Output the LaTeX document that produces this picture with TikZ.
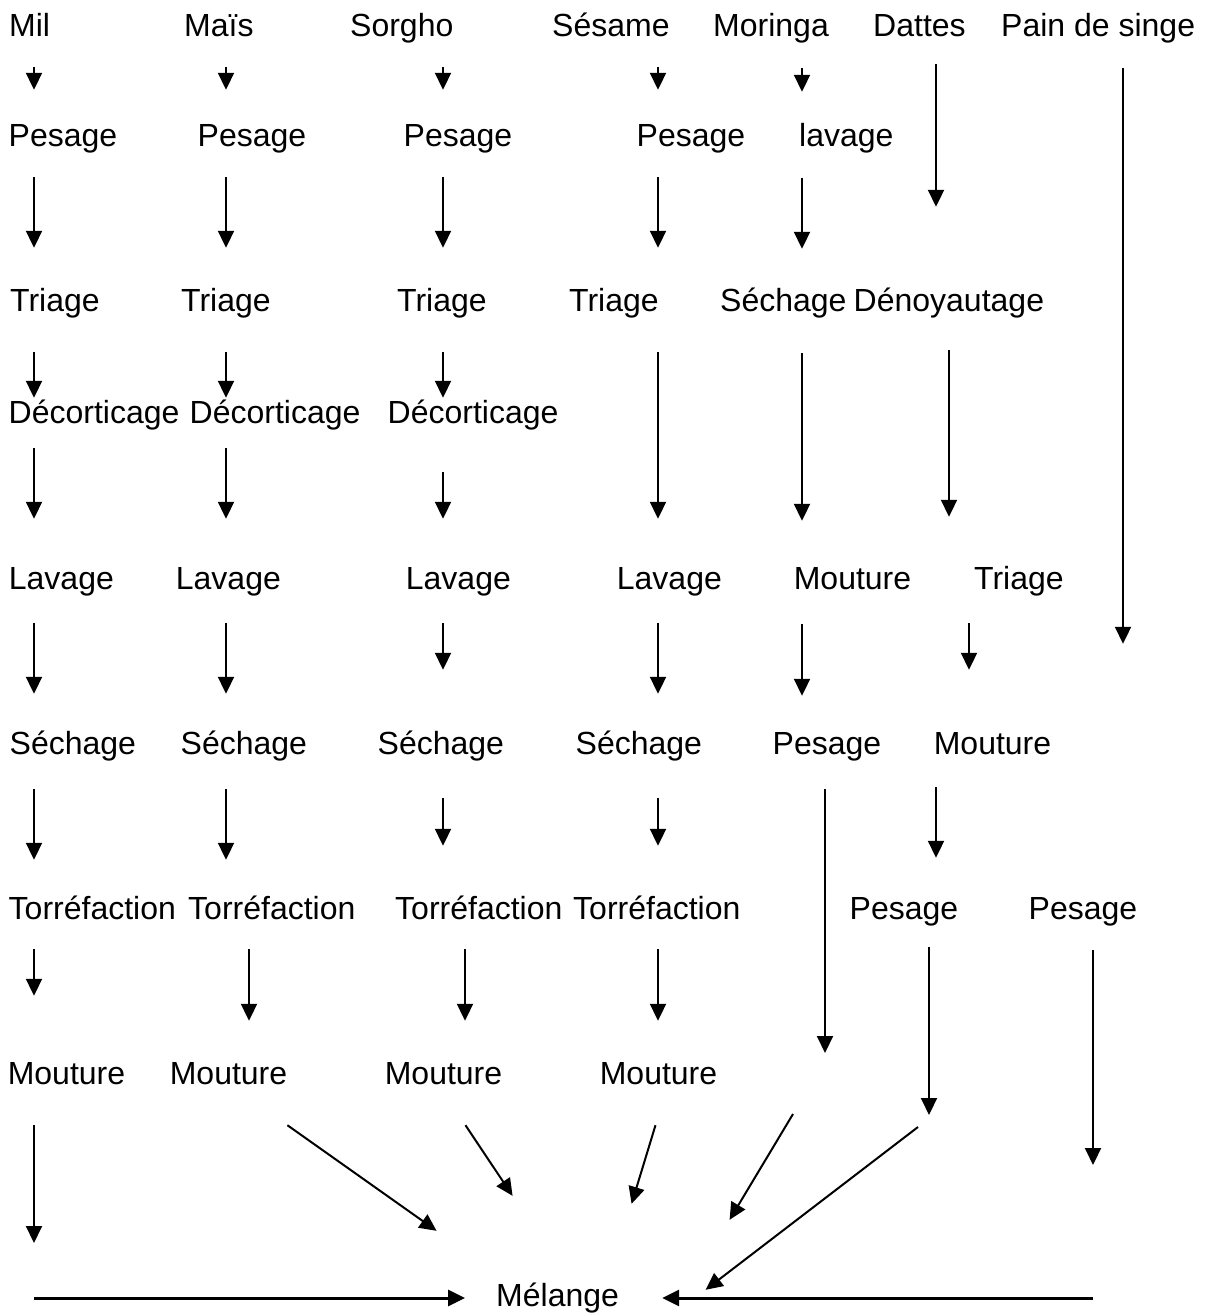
\documentclass[tikz,border=0pt]{standalone}
\usepackage{fontspec}
\setmainfont{Liberation Sans}
\usepackage{tikz}
\usetikzlibrary{arrows.meta}

\begin{document}
\begin{tikzpicture}[x=1pt, y=-1pt, lbl/.style={anchor=base west, inner sep=0pt, text height=23pt, text depth=7pt, font=\fontsize{32pt}{38pt}\selectfont}, arr/.style={line width=2pt, -{Triangle[length=17pt, width=16pt]}}, thick arr/.style={arr, line width=3pt}]

            \useasboundingbox (0,0) rectangle (1209,1313);

            \node[lbl] (mil) at (9,37) {Mil};
            \node[lbl] (mais) at (184,37) {Maïs};
            \node[lbl] (sorgho) at (350,37) {Sorgho};
            \node[lbl] (sesame) at (552,37) {Sésame};
            \node[lbl] (moringa) at (713,37) {Moringa};
            \node[lbl] (dattes) at (873,37) {Dattes};
            \node[lbl] (pain) at (1001,37) {Pain de singe};

            \node[lbl] (milPes) at (8.5,147) {Pesage};
            \node[lbl] (maisPes) at (197.5,147) {Pesage};
            \node[lbl] (sorPes) at (403.5,147) {Pesage};
            \node[lbl] (sesPes) at (636.5,147) {Pesage};
            \node[lbl] (morLav) at (799,147) {lavage};

            \node[lbl] (milTri) at (10,312) {Triage};
            \node[lbl] (maisTri) at (181,312) {Triage};
            \node[lbl] (sorTri) at (397,312) {Triage};
            \node[lbl] (sesTri) at (569,312) {Triage};
            \node[lbl] (morSech) at (720,312) {Séchage};
            \node[lbl] (datDen) at (853.5,312) {Dénoyautage};

            \node[lbl] (milDec) at (8.5,423) {Décorticage};
            \node[lbl] (maisDec) at (189.5,423) {Décorticage};
            \node[lbl] (sorDec) at (387.5,423) {Décorticage};

            \node[lbl] (milLav) at (8.7,589) {Lavage};
            \node[lbl] (maisLav) at (175.7,589) {Lavage};
            \node[lbl] (sorLav) at (405.7,589) {Lavage};
            \node[lbl] (sesLav) at (616.7,589) {Lavage};
            \node[lbl] (morMout) at (793.6,589) {Mouture};
            \node[lbl] (datTri) at (974,589) {Triage};

            \node[lbl] (milSech) at (9.5,754) {Séchage};
            \node[lbl] (maisSech) at (180.5,754) {Séchage};
            \node[lbl] (sorSech) at (377.5,754) {Séchage};
            \node[lbl] (sesSech) at (575.5,754) {Séchage};
            \node[lbl] (morPes) at (772.5,754) {Pesage};
            \node[lbl] (datMout) at (933.6,754) {Mouture};

            \node[lbl] (milTorr) at (8.5,919) {Torréfaction};
            \node[lbl] (maisTorr) at (188,919) {Torréfaction};
            \node[lbl] (sorTorr) at (395,919) {Torréfaction};
            \node[lbl] (sesTorr) at (573,919) {Torréfaction};
            \node[lbl] (datPes) at (849.5,919) {Pesage};
            \node[lbl] (painPes) at (1028.5,919) {Pesage};

            \node[lbl] (milMout) at (7.6,1084) {Mouture};
            \node[lbl] (maisMout) at (169.6,1084) {Mouture};
            \node[lbl] (sorMout) at (384.6,1084) {Mouture};
            \node[lbl] (sesMout) at (599.6,1084) {Mouture};

            \node[lbl] (melange) at (496,1306) {Mélange};

            \coordinate (kMil) at (34,0);
            \coordinate (kMais) at (226,0);
            \coordinate (kMaisB) at (249,0);
            \coordinate (kSorg) at (443,0);
            \coordinate (kSorgB) at (465,0);
            \coordinate (kSes) at (658,0);
            \coordinate (kMor) at (802,0);
            \coordinate (kMorB) at (825,0);
            \coordinate (kDat) at (936,0);
            \coordinate (kDen) at (949,0);
            \coordinate (kTri) at (969,0);
            \coordinate (kDatB) at (929,0);
            \coordinate (kPain) at (1123,0);
            \coordinate (kPainB) at (1093,0);

            \coordinate (milEnd) at (34,1298);
            \coordinate (morEnd) at (825,1053);
            \coordinate (morFrom) at (793,1114);
            \coordinate (datEnd) at (929,1115);
            \coordinate (datFrom) at (918,1127);
            \coordinate (painEnd) at (1093,1298);

            \draw[arr, shorten <=23pt, shorten >=34pt] (mil.south -| kMil) -- (milPes.north -| kMil);
            \draw[arr, shorten <=23pt, shorten >=41pt] (milPes.south -| kMil) -- (milTri.north -| kMil);
            \draw[arr, shorten <=33pt, shorten >=2pt] (milTri.south -| kMil) -- (milDec.north -| kMil);
            \draw[arr, shorten <=18pt, shorten >=47pt] (milDec.south -| kMil) -- (milLav.north -| kMil);
            \draw[arr, shorten <=27pt, shorten >=37pt] (milLav.south -| kMil) -- (milSech.north -| kMil);
            \draw[arr, shorten <=28pt, shorten >=36pt] (milSech.south -| kMil) -- (milTorr.north -| kMil);
            \draw[arr, shorten <=23pt, shorten >=65pt] (milTorr.south -| kMil) -- (milMout.north -| kMil);
            \draw[arr, shorten <=34pt, shorten >=55pt] (milMout.south -| kMil) -- (milEnd);
            \draw[thick arr, shorten >=31pt] (milEnd) -- (melange.west);

            \draw[arr, shorten <=23pt, shorten >=34pt] (mais.south -| kMais) -- (maisPes.north -| kMais);
            \draw[arr, shorten <=23pt, shorten >=41pt] (maisPes.south -| kMais) -- (maisTri.north -| kMais);
            \draw[arr, shorten <=33pt, shorten >=2pt] (maisTri.south -| kMais) -- (maisDec.north -| kMais);
            \draw[arr, shorten <=18pt, shorten >=47pt] (maisDec.south -| kMais) -- (maisLav.north -| kMais);
            \draw[arr, shorten <=27pt, shorten >=37pt] (maisLav.south -| kMais) -- (maisSech.north -| kMais);
            \draw[arr, shorten <=28pt, shorten >=36pt] (maisSech.south -| kMais) -- (maisTorr.north -| kMais);
            \draw[arr, shorten <=23pt, shorten >=40pt] (maisTorr.south -| kMaisB) -- (maisMout.north -| kMaisB);
            \draw[arr] ([yshift=-34pt]maisMout.south east) -- ([xshift=-121pt, yshift=52pt]melange.north);

            \draw[arr, shorten <=23pt, shorten >=34pt] (sorgho.south -| kSorg) -- (sorPes.north -| kSorg);
            \draw[arr, shorten <=23pt, shorten >=41pt] (sorPes.south -| kSorg) -- (sorTri.north -| kSorg);
            \draw[arr, shorten <=33pt, shorten >=2pt] (sorTri.south -| kSorg) -- (sorDec.north -| kSorg);
            \draw[arr, shorten <=42pt, shorten >=47pt] (sorDec.south -| kSorg) -- (sorLav.north -| kSorg);
            \draw[arr, shorten <=27pt, shorten >=61pt] (sorLav.south -| kSorg) -- (sorSech.north -| kSorg);
            \draw[arr, shorten <=37pt, shorten >=50pt] (sorSech.south -| kSorg) -- (sorTorr.north -| kSorg);
            \draw[arr, shorten <=23pt, shorten >=40pt] (sorTorr.south -| kSorgB) -- (sorMout.north -| kSorgB);
            \draw[arr] ([xshift=22pt, yshift=-34pt]sorMout.south) -- ([xshift=-45pt, yshift=87pt]melange.north);

            \draw[arr, shorten <=23pt, shorten >=34pt] (sesame.south -| kSes) -- (sesPes.north -| kSes);
            \draw[arr, shorten <=23pt, shorten >=41pt] (sesPes.south -| kSes) -- (sesTri.north -| kSes);
            \draw[arr, shorten <=33pt, shorten >=47pt] (sesTri.south -| kSes) -- (sesLav.north -| kSes);
            \draw[arr, shorten <=27pt, shorten >=37pt] (sesLav.south -| kSes) -- (sesSech.north -| kSes);
            \draw[arr, shorten <=37pt, shorten >=50pt] (sesSech.south -| kSes) -- (sesTorr.north -| kSes);
            \draw[arr, shorten <=23pt, shorten >=40pt] (sesTorr.south -| kSes) -- (sesMout.north -| kSes);
            \draw[arr] ([xshift=-3pt, yshift=-34pt]sesMout.south) -- ([xshift=74pt, yshift=79pt]melange.north);

            \draw[arr, shorten <=24pt, shorten >=32pt] (moringa.south -| kMor) -- (morLav.north -| kMor);
            \draw[arr, shorten <=24pt, shorten >=40pt] (morLav.south -| kMor) -- (morSech.north -| kMor);
            \draw[arr, shorten <=34pt, shorten >=45pt] (morSech.south -| kMor) -- (morMout.north -| kMor);
            \draw[arr, shorten <=28pt, shorten >=35pt] (morMout.south -| kMor) -- (morPes.north -| kMor);
            \draw[arr, shorten <=28pt] (morPes.south -| kMorB) -- (morEnd);
            \draw[arr] (morFrom) -- ([xshift=172pt, yshift=63pt]melange.north);

            \draw[arr, shorten <=20pt, shorten >=82pt] (dattes.south -| kDat) -- (datDen.north -| kDat);
            \draw[arr, shorten <=31pt, shorten >=49pt] (datDen.south -| kDen) -- (datTri.north -| kDen);
            \draw[arr, shorten <=27pt, shorten >=61pt] (datTri.south -| kTri) -- (datMout.north -| kTri);
            \draw[arr, shorten <=26pt, shorten >=38pt] (datMout.south -| kDat) -- (datPes.north -| kDat);
            \draw[arr, shorten <=21pt] (datPes.south -| kDatB) -- (datEnd);
            \draw[arr] (datFrom) -- ([xshift=148pt, yshift=-7pt]melange.north);

            \draw[arr, shorten <=24pt, shorten >=252pt] (pain.south -| kPain) -- (painPes.north -| kPain);
            \draw[arr, shorten <=24pt, shorten >=133pt] (painPes.south -| kPainB) -- (painEnd);
            \draw[thick arr, shorten >=43pt] (painEnd) -- (melange.east);

        \end{tikzpicture}
\end{document}
